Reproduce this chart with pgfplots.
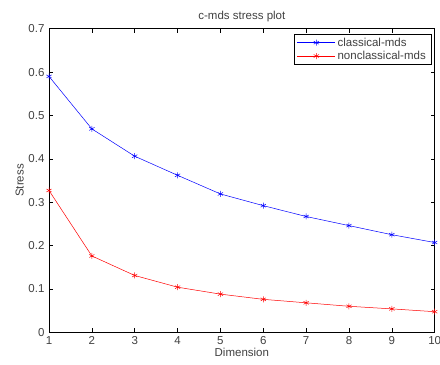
\documentclass[border=0pt]{standalone}
\usepackage{fontspec}
\setmainfont{Liberation Sans}
\usepackage{pgfplots}
\pgfplotsset{compat=1.18}
\begin{document}
\begin{tikzpicture}
\begin{axis}[
  scale only axis,
  width=385.7pt, height=303.6pt,
  xmin=1, xmax=10, ymin=0, ymax=0.7,
  xtick={1,2,...,10},
  ytick={0,0.1,0.2,0.3,0.4,0.5,0.6,0.7},
  yticklabels={0,0.1,0.2,0.3,0.4,0.5,0.6,0.7},
  /pgf/number format/assume math mode=true,
  tick align=inside,
  major tick length=4pt,
  tick style={black, line width=0.5pt},
  axis line style={black, line width=0.5pt},
  every tick label/.append style={font=\fontsize{11.5}{13}\selectfont, text=black!75},
  xticklabel style={yshift=-0.5pt},
  yticklabel style={xshift=-1pt},
  title={c-mds stress plot},
  title style={font=\fontsize{11.5}{13}\selectfont, text=black!75, yshift=-3pt},
  xlabel={Dimension},
  ylabel={Stress},
  xlabel style={font=\fontsize{11.5}{13}\selectfont, text=black!75, yshift=3pt},
  ylabel style={font=\fontsize{11.5}{13}\selectfont, text=black!75, yshift=-2pt},
  legend style={at={(rel axis cs:0.9905,0.9825)}, anchor=north east,
    font=\fontsize{11.5}{13}\selectfont, text=black!75, draw=black, line width=0.5pt,
    inner xsep=3pt, inner ysep=1.5pt, row sep=-0.5pt},
  legend cell align=left,
  legend image code/.code={\draw[#1] (0pt,0pt) -- (38pt,0pt); \draw[#1, mark repeat=2, mark phase=2] plot coordinates {(0pt,0pt) (19pt,0pt) (38pt,0pt)};},
]
\addplot[blue, line width=0.5pt, mark=asterisk, mark size=3pt, mark options={solid}] coordinates {
 (1,0.590) (2,0.469) (3,0.406) (4,0.362) (5,0.319) (6,0.292) (7,0.267) (8,0.246) (9,0.225) (10,0.207)
};
\addlegendentry{classical-mds}
\addplot[red, line width=0.5pt, mark=asterisk, mark size=3pt, mark options={solid}] coordinates {
 (1,0.327) (2,0.176) (3,0.131) (4,0.104) (5,0.088) (6,0.076) (7,0.068) (8,0.060) (9,0.054) (10,0.0475)
};
\addlegendentry{nonclassical-mds}
\coordinate (sw) at (rel axis cs:0,0);
\coordinate (ne) at (rel axis cs:1,1);
\end{axis}
\pgfresetboundingbox
\path ([xshift=-49pt,yshift=-31.7pt]sw) rectangle ([xshift=5.3pt,yshift=28.7pt]ne);
\end{tikzpicture}
\end{document}
